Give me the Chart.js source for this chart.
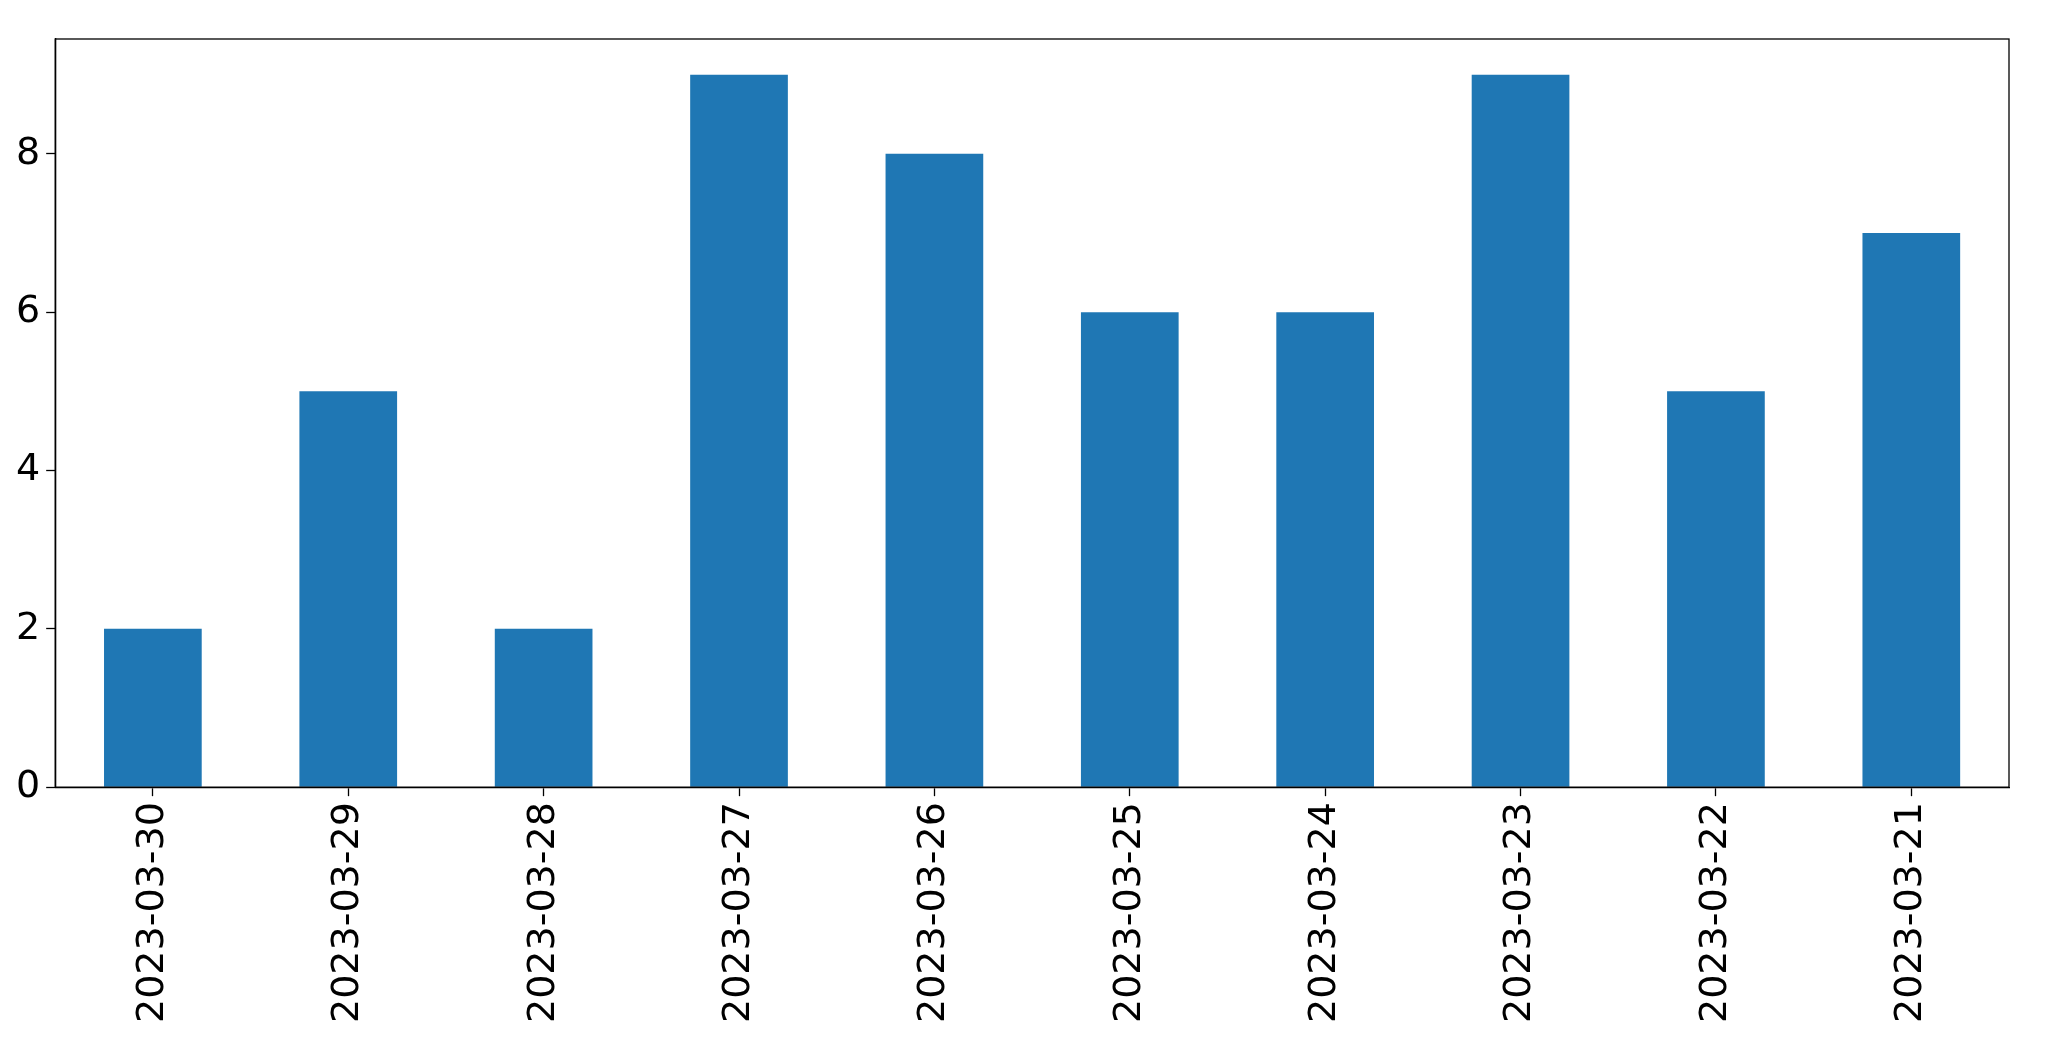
<!DOCTYPE html>
<html><head><meta charset="utf-8">
<script src="https://cdn.jsdelivr.net/npm/chart.js@4"></script>
<style>body{margin:0;background:#fff}</style></head>
<body><canvas id="c" width="2049" height="1061"></canvas>
<script>
const categories=["2023-03-30","2023-03-29","2023-03-28","2023-03-27","2023-03-26","2023-03-25","2023-03-24","2023-03-23","2023-03-22","2023-03-21"];
const values=[2,5,2,9,8,6,6,9,5,7];
const yTicks=[0,2,4,6,8];
const frame={id:'frame',afterDraw(c){const a=c.chartArea,x=c.ctx;x.save();x.strokeStyle='#000';x.lineWidth=1.3;x.strokeRect(a.left,a.top,a.right-a.left,a.bottom-a.top);x.restore();}};
new Chart(document.getElementById('c'),{type:'bar',
data:{labels:categories,datasets:[{data:values,backgroundColor:'#1f77b4',barPercentage:0.5,categoryPercentage:1}]},
options:{responsive:false,animation:false,devicePixelRatio:1,
layout:{padding:{left:10,right:40,top:39,bottom:32}},
plugins:{legend:{display:false},tooltip:{enabled:false}},
scales:{
x:{grid:{display:true,offset:false,drawOnChartArea:false,color:'#000',tickLength:9,tickWidth:1.3},border:{color:'#000',width:1.3},
ticks:{color:'#000',font:{family:'DejaVu Sans',size:38},minRotation:90,maxRotation:90,padding:6}},
y:{min:0,max:9.45,grid:{display:true,drawOnChartArea:false,color:'#000',tickLength:9,tickWidth:1.3},border:{color:'#000',width:1.3},
afterBuildTicks(s){s.ticks=yTicks.map(v=>({value:v}));},
ticks:{color:'#000',font:{family:'DejaVu Sans',size:38},padding:6}}}},
plugins:[frame]});
</script></body></html>
